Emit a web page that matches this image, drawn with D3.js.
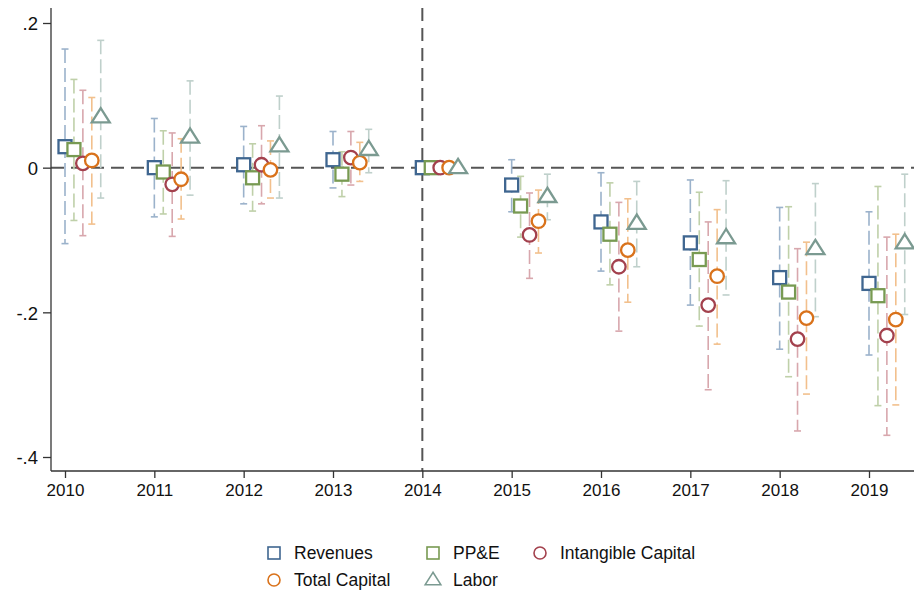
<!DOCTYPE html>
<html>
<head>
<meta charset="utf-8">
<script src="https://cdn.jsdelivr.net/npm/d3@7"></script>
<style>
  body { margin: 0; background: #fff; }
  svg { font-family: "Liberation Sans", Arial, Helvetica, sans-serif; }
</style>
</head>
<body>
<div id="chart"></div>
<script>
// years on the x axis
var years = [2010, 2011, 2012, 2013, 2014, 2015, 2016, 2017, 2018, 2019];

// point estimates, one array per series
var revenues     = [0.029, 0.000, 0.004, 0.011, 0, -0.024, -0.075, -0.104, -0.152, -0.160];
var ppe          = [0.025, -0.006, -0.014, -0.009, 0, -0.053, -0.092, -0.127, -0.172, -0.177];
var intangible   = [0.006, -0.023, 0.004, 0.014, 0, -0.093, -0.137, -0.190, -0.237, -0.232];
var totalCapital = [0.010, -0.016, -0.003, 0.007, 0, -0.074, -0.114, -0.150, -0.208, -0.210];
var labor        = [0.070, 0.042, 0.030, 0.025, 0, -0.040, -0.077, -0.097, -0.112, -0.104];

// confidence interval bounds (null = no interval in the base year)
var revenuesHi     = [0.164, 0.068, 0.057, 0.050, null, 0.011, -0.007, -0.017, -0.055, -0.061];
var revenuesLo     = [-0.105, -0.068, -0.050, -0.028, null, -0.061, -0.143, -0.190, -0.251, -0.259];
var ppeHi          = [0.122, 0.051, 0.033, 0.022, null, -0.012, -0.021, -0.034, -0.054, -0.026];
var ppeLo          = [-0.073, -0.064, -0.060, -0.040, null, -0.096, -0.162, -0.219, -0.289, -0.329];
var intangibleHi   = [0.107, 0.048, 0.058, 0.050, null, -0.035, -0.048, -0.075, -0.112, -0.096];
var intangibleLo   = [-0.094, -0.095, -0.050, -0.024, null, -0.153, -0.226, -0.307, -0.364, -0.370];
var totalCapitalHi = [0.097, 0.040, 0.037, 0.035, null, -0.031, -0.043, -0.058, -0.103, -0.092];
var totalCapitalLo = [-0.078, -0.071, -0.042, -0.019, null, -0.118, -0.186, -0.244, -0.313, -0.328];
var laborHi        = [0.176, 0.120, 0.099, 0.053, null, -0.009, -0.019, -0.018, -0.022, -0.009];
var laborLo        = [-0.042, -0.038, -0.042, -0.007, null, -0.072, -0.137, -0.176, -0.206, -0.203];

var yTicks = [0.2, 0, -0.2, -0.4];
var yTickLabels = [".2", "0", "-.2", "-.4"];

var series = [
  { name: "Revenues",          est: revenues,     hi: revenuesHi,     lo: revenuesLo,     shift: 0.0, symbol: "square",   color: "#3f6690", light: "#9bb2cb" },
  { name: "PP&E",              est: ppe,          hi: ppeHi,          lo: ppeLo,          shift: 0.1, symbol: "square",   color: "#789a52", light: "#bfd0a9" },
  { name: "Intangible Capital",est: intangible,   hi: intangibleHi,   lo: intangibleLo,   shift: 0.2, symbol: "circle",   color: "#a3414d", light: "#d8a7ad" },
  { name: "Total Capital",     est: totalCapital, hi: totalCapitalHi, lo: totalCapitalLo, shift: 0.3, symbol: "circle",   color: "#d9721b", light: "#f2c08d" },
  { name: "Labor",             est: labor,        hi: laborHi,        lo: laborLo,        shift: 0.4, symbol: "triangle", color: "#7b9a91", light: "#bfd0cb" }
];

var width = 914, height = 592;
var svg = d3.select("#chart").append("svg")
  .attr("width", width)
  .attr("height", height);

var x = d3.scaleLinear().domain([2010, 2019]).range([65, 869]);
var y = d3.scaleLinear().domain([0.2, -0.4]).range([23, 457]);

var plotLeft = 51, plotRight = 914, plotTop = 8, plotBottom = 471;

// reference lines
svg.append("line")
  .attr("x1", plotLeft).attr("x2", plotRight)
  .attr("y1", y(0)).attr("y2", y(0))
  .attr("stroke", "#555").attr("stroke-width", 2)
  .attr("stroke-dasharray", "13,7");

svg.append("line")
  .attr("x1", x(2014)).attr("x2", x(2014))
  .attr("y1", plotTop).attr("y2", plotBottom)
  .attr("stroke", "#555").attr("stroke-width", 2)
  .attr("stroke-dasharray", "13,7");

// axes
var yAxis = d3.axisLeft(y)
  .tickValues(yTicks)
  .tickSize(8)
  .tickPadding(5)
  .tickFormat(function (d, i) { return yTickLabels[i]; });

var gy = svg.append("g")
  .attr("transform", "translate(" + plotLeft + ",0)")
  .call(yAxis);
gy.select(".domain").attr("d", "M0," + plotTop + "V" + plotBottom);

var xAxis = d3.axisBottom(x)
  .tickValues(years)
  .tickSize(7)
  .tickPadding(6)
  .tickFormat(d3.format("d"));

var gx = svg.append("g")
  .attr("transform", "translate(0," + plotBottom + ")")
  .call(xAxis);
gx.select(".domain").attr("d", "M" + plotLeft + ",0H" + plotRight);

svg.selectAll(".domain, .tick line").attr("stroke", "#333").attr("stroke-width", 1.3);
gy.selectAll("text").attr("font-size", 18.5).attr("fill", "#111").attr("dy", "0.36em");
gx.selectAll("text").attr("font-size", 17).attr("fill", "#111");

function drawSymbol(g, type, cx, cy, s, color, sw) {
  if (type === "square") {
    g.append("rect")
      .attr("x", cx - s / 2).attr("y", cy - s / 2)
      .attr("width", s).attr("height", s)
      .attr("fill", "#fff").attr("stroke", color).attr("stroke-width", sw);
  } else if (type === "circle") {
    g.append("circle")
      .attr("cx", cx).attr("cy", cy).attr("r", s / 2)
      .attr("fill", "#fff").attr("stroke", color).attr("stroke-width", sw);
  } else {
    var h = s * 0.95;
    var pts = [[cx, cy - h * 0.62], [cx - s * 0.6, cy + h * 0.38], [cx + s * 0.6, cy + h * 0.38]];
    g.append("polygon")
      .attr("points", pts.map(function (p) { return p.join(","); }).join(" "))
      .attr("fill", "#fff").attr("stroke", color).attr("stroke-width", sw)
      .attr("stroke-linejoin", "miter");
  }
}

// error bars first (all series), then markers
var bars = svg.append("g");
series.forEach(function (s) {
  years.forEach(function (yr, i) {
    if (s.hi[i] === null) return;
    var cx = x(yr + s.shift);
    bars.append("line")
      .attr("x1", cx).attr("x2", cx)
      .attr("y1", y(s.hi[i])).attr("y2", y(s.lo[i]))
      .attr("stroke", s.light).attr("stroke-width", 1.6)
      .attr("stroke-dasharray", "14,5");
    [s.hi[i], s.lo[i]].forEach(function (v) {
      bars.append("line")
        .attr("x1", cx - 3.5).attr("x2", cx + 3.5)
        .attr("y1", y(v)).attr("y2", y(v))
        .attr("stroke", s.light).attr("stroke-width", 1.6);
    });
  });
});

var marks = svg.append("g");
series.forEach(function (s) {
  years.forEach(function (yr, i) {
    var size = s.symbol === "square" ? 13 : (s.symbol === "circle" ? 13.5 : 15);
    drawSymbol(marks, s.symbol, x(yr + s.shift), y(s.est[i]), size, s.color, 2.3);
  });
});

// legend
var legendItems = [
  { s: series[0], lx: 274, ly: 553 },
  { s: series[1], lx: 433, ly: 553 },
  { s: series[2], lx: 540, ly: 553 },
  { s: series[3], lx: 274, ly: 580 },
  { s: series[4], lx: 433, ly: 580 }
];
var legend = svg.append("g");
legendItems.forEach(function (d) {
  var size = d.s.symbol === "triangle" ? 13 : 12;
  drawSymbol(legend, d.s.symbol, d.lx, d.ly, size, d.s.color, 1.6);
  legend.append("text")
    .attr("x", d.lx + 20).attr("y", d.ly)
    .attr("dy", "0.36em")
    .attr("font-size", 17.5).attr("fill", "#111")
    .text(d.s.name);
});
</script>
</body>
</html>
